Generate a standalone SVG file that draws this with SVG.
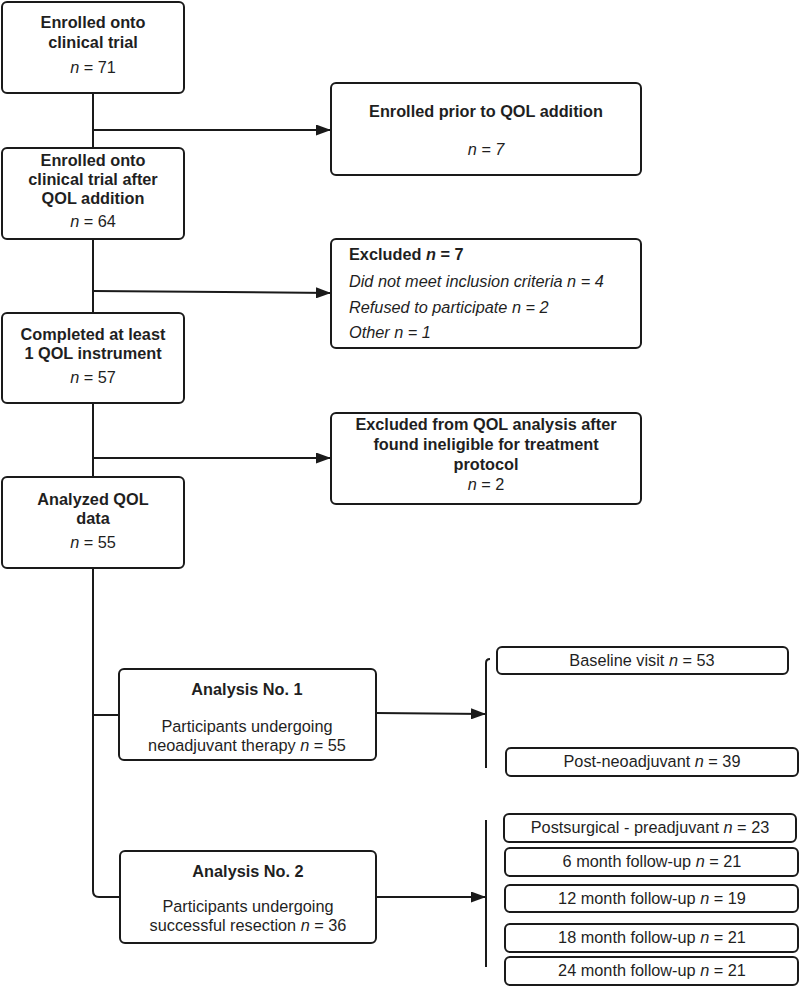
<svg xmlns="http://www.w3.org/2000/svg" width="800" height="988" viewBox="0 0 800 988">
<defs>
<style>
.box{fill:#fff;stroke:#1a1a1a;stroke-width:2}
.ln{fill:none;stroke:#1a1a1a;stroke-width:2}
text{font-family:"Liberation Sans",Arial,sans-serif;font-size:16.3px;fill:#1f1f1f}
.b{font-weight:bold}
.c{text-anchor:middle}
.i{font-style:italic}
</style>
<marker id="ah" markerWidth="15" markerHeight="11" refX="15" refY="5.5" orient="auto" markerUnits="userSpaceOnUse">
<path d="M0,0 L15,5.5 L0,11 Z" fill="#1a1a1a"/>
</marker>
</defs>
<rect width="800" height="988" fill="#fff"/>
<g id="connectors">
<path class="ln" d="M93,93 V148"/>
<path class="ln" d="M93,239 V313"/>
<path class="ln" d="M93,403 V477"/>
<path class="ln" d="M93,568 V891 Q93,897 99,897 H120"/>
<path class="ln" d="M93,715 H119"/>
<path class="ln" d="M93,130 H331" marker-end="url(#ah)"/>
<path class="ln" d="M93,291 L331,293" marker-end="url(#ah)"/>
<path class="ln" d="M93,458 H331" marker-end="url(#ah)"/>
<path class="ln" d="M376,713 L486,714" marker-end="url(#ah)"/>
<path class="ln" d="M376,897 H486" marker-end="url(#ah)"/>
<path class="ln" d="M490,659 Q486,659 486,663 V768"/>
<path class="ln" d="M486,820 V967"/>
</g>
<g id="n1">
<rect class="box" x="2" y="2" width="182" height="91" rx="5"/>
<text class="b c" x="93" y="28">Enrolled onto</text>
<text class="b c" x="93" y="48">clinical trial</text>
<text class="c" x="93" y="73"><tspan class="i">n</tspan> = 71</text>
</g>
<g id="n2">
<rect class="box" x="2" y="148" width="182" height="91" rx="5"/>
<text class="b c" x="93" y="166">Enrolled onto</text>
<text class="b c" x="93" y="185">clinical trial after</text>
<text class="b c" x="93" y="204">QOL addition</text>
<text class="c" x="93" y="227"><tspan class="i">n</tspan> = 64</text>
</g>
<g id="n3">
<rect class="box" x="2" y="313" width="182" height="90" rx="5"/>
<text class="b c" x="93" y="340">Completed at least</text>
<text class="b c" x="93" y="359">1 QOL instrument</text>
<text class="c" x="93" y="383"><tspan class="i">n</tspan> = 57</text>
</g>
<g id="n4">
<rect class="box" x="2" y="477" width="182" height="91" rx="5"/>
<text class="b c" x="93" y="505">Analyzed QOL</text>
<text class="b c" x="93" y="524">data</text>
<text class="c" x="93" y="548"><tspan class="i">n</tspan> = 55</text>
</g>
<g id="r1">
<rect class="box" x="331" y="83" width="310" height="92" rx="5"/>
<text class="b c" x="486" y="117">Enrolled prior to QOL addition</text>
<text class="c i" x="486" y="155">n = 7</text>
</g>
<g id="r2">
<rect class="box" x="331" y="239" width="310" height="109" rx="5"/>
<text class="b" x="349" y="260">Excluded <tspan class="i">n</tspan> = 7</text>
<text class="i" x="349" y="287">Did not meet inclusion criteria n = 4</text>
<text class="i" x="349" y="313">Refused to participate n = 2</text>
<text class="i" x="349" y="338">Other n = 1</text>
</g>
<g id="r3">
<rect class="box" x="331" y="413" width="310" height="91" rx="5"/>
<text class="b c" x="486" y="430">Excluded from QOL analysis after</text>
<text class="b c" x="486" y="450">found ineligible for treatment</text>
<text class="b c" x="486" y="470">protocol</text>
<text class="c" x="486" y="490"><tspan class="i">n</tspan> = 2</text>
</g>
<g id="a1">
<rect class="box" x="119" y="669" width="257" height="91" rx="5"/>
<text class="b c" x="247" y="695">Analysis No. 1</text>
<text class="c" x="247" y="732">Participants undergoing</text>
<text class="c" x="247" y="751">neoadjuvant therapy <tspan class="i">n</tspan> = 55</text>
</g>
<g id="a2">
<rect class="box" x="120" y="851" width="256" height="92" rx="5"/>
<text class="b c" x="248" y="877">Analysis No. 2</text>
<text class="c" x="248" y="912">Participants undergoing</text>
<text class="c" x="248" y="931">successful resection <tspan class="i">n</tspan> = 36</text>
</g>
<g id="v1">
<rect class="box" x="497" y="647" width="291" height="27" rx="5"/>
<text class="c" x="642" y="666">Baseline visit <tspan class="i">n</tspan> = 53</text>
</g>
<g id="v2">
<rect class="box" x="506" y="748" width="292" height="28" rx="5"/>
<text class="c" x="652" y="767">Post-neoadjuvant <tspan class="i">n</tspan> = 39</text>
</g>
<g id="v3">
<rect class="box" x="504" y="814" width="292" height="28" rx="5"/>
<text class="c" x="650" y="833">Postsurgical - preadjuvant  <tspan class="i">n</tspan> = 23</text>
</g>
<g id="v4">
<rect class="box" x="505" y="848" width="293" height="28" rx="5"/>
<text class="c" x="652" y="867">6 month follow-up <tspan class="i">n</tspan> = 21</text>
</g>
<g id="v5">
<rect class="box" x="505" y="885" width="293" height="27" rx="5"/>
<text class="c" x="652" y="904">12 month follow-up <tspan class="i">n</tspan> = 19</text>
</g>
<g id="v6">
<rect class="box" x="505" y="924" width="293" height="28" rx="5"/>
<text class="c" x="652" y="943">18 month follow-up <tspan class="i">n</tspan> = 21</text>
</g>
<g id="v7">
<rect class="box" x="505" y="957" width="293" height="28" rx="5"/>
<text class="c" x="652" y="976">24 month follow-up <tspan class="i">n</tspan> = 21</text>
</g>
</svg>
